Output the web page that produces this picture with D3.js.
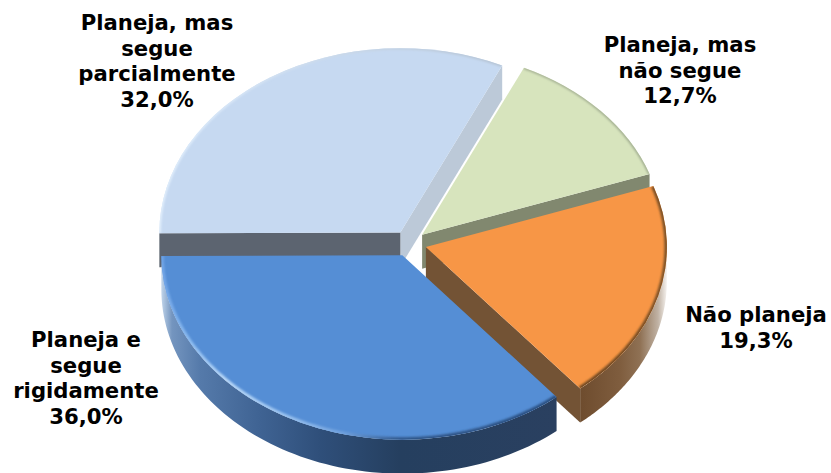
<!DOCTYPE html>
<html lang="pt">
<head>
<meta charset="utf-8">
<script src="https://cdn.jsdelivr.net/npm/d3@7"></script>
<style>
  html, body { margin: 0; padding: 0; background: #fff; }
  svg { display: block; }
  text { font-family: "DejaVu Sans", Verdana, sans-serif; font-weight: 700; font-size: 21.2px; fill: #000; }
</style>
</head>
<body>
<script>
// Survey shares, clockwise starting at the lower-right cut of the pie
const categories = ["Planeja e segue rigidamente", "Planeja, mas segue parcialmente", "Planeja, mas não segue", "Não planeja"];
const shares = [36.0, 32.0, 12.7, 19.3];
const labelLines = [
  ["Planeja e", "segue", "rigidamente", "36,0%"],
  ["Planeja, mas", "segue", "parcialmente", "32,0%"],
  ["Planeja, mas", "não segue", "12,7%"],
  ["Não planeja", "19,3%"]
];
const topColors = ["#558ED5", "#C6D9F1", "#D7E4BD", "#F79646"];
const cutColors = ["#2A4060", "#5C6470", "#81886F", "#735335"];
const backCutColor = "#BCC9D8";
const labelAnchors = [[86, 347], [157, 30], [680, 52], [756, 322]];

const width = 831, height = 473;
const cx = 409.5, cy = 243.5, R = 241, tilt = 0.765, depth = 34, explode = 17;
const firstAngle = 140.2 * Math.PI / 180;
const LINE = 25.6;

const svg = d3.select("body").append("svg").attr("width", width).attr("height", height);
const defs = svg.append("defs");

const blur = defs.append("filter").attr("id", "soft")
  .attr("x", "-10%").attr("y", "-10%").attr("width", "120%").attr("height", "120%");
blur.append("feGaussianBlur").attr("stdDeviation", 1.2);

function hGradient(id, x1, x2, stops) {
  const scale = d3.scaleLinear().domain([x1, x2]).range([0, 1]);
  const g = defs.append("linearGradient").attr("id", id)
    .attr("gradientUnits", "userSpaceOnUse")
    .attr("x1", x1).attr("x2", x2).attr("y1", 0).attr("y2", 0);
  stops.forEach(([x, c]) => g.append("stop").attr("offset", scale(x)).attr("stop-color", c));
}
// Shaded outer walls
hGradient("wall0", 158, 557, [[158, "#E2ECF7"], [163, "#B4CAE3"], [172, "#7495BF"], [200, "#557AAA"],
  [260, "#3F6393"], [320, "#2F4F7A"], [400, "#253F5F"], [557, "#2A4060"]]);
hGradient("wall3", 580, 668, [[580, "#6E4C2E"], [620, "#7F5D3E"], [640, "#8F7154"], [658, "#C0B2A4"], [667, "#F6F3F0"]]);
// Bevel along the rim of each top face
hGradient("rim0", 160, 557, [[160, "#6FA3E6"], [190, "#8DBCF0"], [225, "#BAD9F8"], [285, "#9CC4F0"],
  [345, "#6E9FDC"], [400, "#2F5588"], [557, "#2B4F80"]]);
hGradient("rim1", 158, 500, [[158, "#E4F1FD"], [220, "#DCEAF9"], [500, "#B4C2D2"]]);
hGradient("rim2", 520, 650, [[520, "#A8B396"], [650, "#A0AC90"]]);
hGradient("rim3", 580, 668, [[580, "#6B4520"], [668, "#7D5226"]]);

const pie = d3.pie().sort(null).startAngle(firstAngle).endAngle(firstAngle + 2 * Math.PI);
const arcs = pie(shares);
const arcGen = d3.arc().innerRadius(0).outerRadius(R);
const line = d3.line();

// Each slice moves outward along its bisector, foreshortened by the tilt
function offset(d) {
  const mid = (d.startAngle + d.endAngle) / 2;
  return [cx + explode * Math.sin(mid), cy - explode * tilt * Math.cos(mid)];
}
const project = (o, a, r = R) => [o[0] + r * Math.sin(a), o[1] - r * tilt * Math.cos(a)];
const drop = (p) => [p[0], p[1] + depth];
const sweep = (a0, a1) => d3.range(0, 81).map(i => a0 + (a1 - a0) * i / 80);

// Bottom-facing cut running from the apex to the rim at the given angle
function cutWall(o, a) {
  const p = project(o, a);
  return line([o, p, drop(p), drop(o)]) + "Z";
}

const TAU = 2 * Math.PI;
const frontStart = Math.PI / 2, frontEnd = 3 * Math.PI / 2;

function drawSlice(i) {
  const d = arcs[i], o = offset(d);
  const g = svg.append("g").attr("class", "slice");

  // Front part of the curved wall
  const visible = [];
  for (const shift of [0, TAU]) {
    const a0 = Math.max(d.startAngle, frontStart + shift);
    const a1 = Math.min(d.endAngle, frontEnd + shift);
    if (a1 > a0) visible.push([a0, a1]);
  }
  if (i === 0 || i === 3) {
    visible.forEach(([a0, a1]) => {
      const rim = sweep(a0, a1).map(a => project(o, a));
      g.append("path")
        .attr("d", line(rim.concat(rim.slice().reverse().map(drop))) + "Z")
        .attr("fill", `url(#wall${i})`);
    });
  }

  // Flat cut faces exposed by the explosion
  if (i === 1) {
    g.append("path").attr("d", cutWall(o, d.endAngle)).attr("fill", backCutColor);
    g.append("path").attr("d", cutWall(o, d.startAngle)).attr("fill", cutColors[i]);
  } else if (i === 2 || i === 3) {
    g.append("path").attr("d", cutWall(o, d.endAngle)).attr("fill", cutColors[i]);
  }

  // Top face, an arc flattened by the tilt
  const faceTransform = `translate(${o[0]},${o[1]}) scale(1,${tilt})`;
  const clipId = `face${i}`;
  defs.append("clipPath").attr("id", clipId).append("path")
    .attr("d", arcGen(d)).attr("transform", faceTransform);
  g.append("path").attr("d", arcGen(d)).attr("transform", faceTransform).attr("fill", topColors[i]);

  // Blurred bevel, kept inside the top face
  const rimLine = sweep(d.startAngle, d.endAngle).map(a => project(o, a));
  g.append("g").attr("clip-path", `url(#${clipId})`)
    .append("path").attr("d", line(rimLine))
    .attr("fill", "none")
    .attr("stroke", `url(#rim${i})`)
    .attr("stroke-width", i === 0 || i === 3 ? 5 : 3)
    .attr("filter", "url(#soft)");
}

[1, 2, 3, 0].forEach(drawSlice);

// Category labels with their percentages
labelLines.forEach((lines, i) => {
  const t = svg.append("text").attr("text-anchor", "middle")
    .attr("aria-label", categories[i])
    .attr("x", labelAnchors[i][0]).attr("y", labelAnchors[i][1]);
  lines.forEach((s, j) => {
    t.append("tspan").attr("x", labelAnchors[i][0])
      .attr("y", labelAnchors[i][1] + j * LINE).text(s);
  });
});
</script>
</body>
</html>
